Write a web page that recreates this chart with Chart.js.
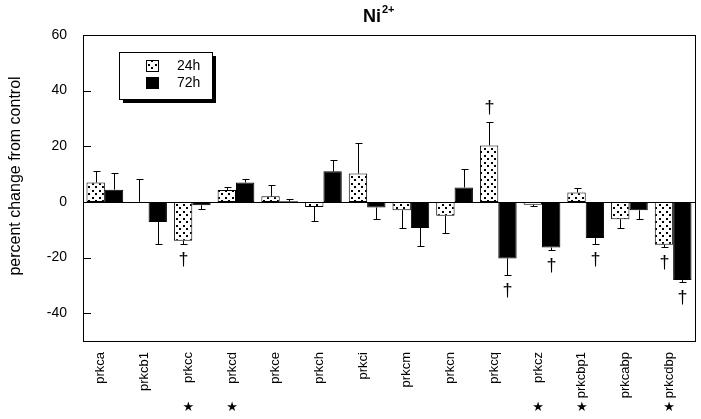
<!DOCTYPE html>
<html>
<head>
<meta charset="utf-8">
<script src="https://cdn.jsdelivr.net/npm/chart.js@4/dist/chart.umd.min.js"></script>
<style>
html, body { margin: 0; padding: 0; background: #fff; }
</style>
</head>
<body>
<canvas id="chart" width="701" height="419"></canvas>
<script>
// Data
const genes = ['prkca', 'prkcb1', 'prkcc', 'prkcd', 'prkce', 'prkch', 'prkci', 'prkcm', 'prkcn', 'prkcq', 'prkcz', 'prkcbp1', 'prkcabp', 'prkcdbp'];
const values24h = [7, 0, -14, 4.3, 2, -1.8, 10.2, -3, -5, 20.3, -1, 3.4, -6.2, -15.4];
const errors24h = [4, 8.4, 1, 1, 4.2, 5.2, 10.8, 6.4, 6, 8.5, 0.6, 1.6, 3, 0.7];
const values72h = [4.4, -7.2, -1.2, 7, 0.2, 11, -2, -9.4, 5.2, -20.3, -16.4, -13, -3, -28.1];
const errors72h = [6, 8, 1.4, 1.1, 0.7, 4, 4, 6.6, 6.8, 6, 0.8, 2.2, 3, 0.8];
const dagger24h = [0, 0, 1, 0, 0, 0, 0, 0, 0, 1, 0, 0, 0, 1];
const dagger72h = [0, 0, 0, 0, 0, 0, 0, 0, 0, 1, 1, 1, 0, 1];
const starred = [0, 0, 1, 1, 0, 0, 0, 0, 0, 0, 1, 1, 0, 1];
const yTicks = [-40, -20, 0, 20, 40, 60];

const FONT = "'Liberation Sans', Arial, Helvetica, sans-serif";

// dotted fill for the 24h bars
function dotPattern() {
    const c = document.createElement('canvas');
    c.width = 7;
    c.height = 7;
    const p = c.getContext('2d');
    p.fillStyle = '#fff';
    p.fillRect(0, 0, 7, 7);
    p.fillStyle = '#000';
    p.fillRect(1, 1, 2, 2);
    p.fillRect(4, 4, 2, 2);
    return p.createPattern(c, 'repeat');
}

const ctx = document.getElementById('chart').getContext('2d');
const dots = dotPattern();

// error bars, daggers, stars, frame, legend and titles
const extras = {
    id: 'extras',
    afterDatasetsDraw(chart) {
        const c = chart.ctx;
        const area = chart.chartArea;
        const y = chart.scales.y;
        const x = chart.scales.x;
        c.save();
        c.strokeStyle = '#000';
        c.lineWidth = 1;

        // zero line
        const y0 = Math.round(y.getPixelForValue(0)) + 0.5;
        c.beginPath();
        c.moveTo(area.left, y0);
        c.lineTo(area.right, y0);
        c.stroke();

        // inner tick marks on the y axis
        yTicks.forEach(v => {
            const py = Math.round(y.getPixelForValue(v)) + 0.5;
            c.beginPath();
            c.moveTo(area.left, py);
            c.lineTo(area.left + 8, py);
            c.stroke();
        });

        // frame
        c.strokeRect(Math.round(area.left) + 0.5, Math.round(area.top) + 0.5,
            Math.round(area.right - area.left), Math.round(area.bottom - area.top));

        const errs = [errors24h, errors72h];
        const dags = [dagger24h, dagger72h];
        c.fillStyle = '#000';
        c.font = '18px ' + FONT;
        c.textAlign = 'center';
        errs.forEach((err, di) => {
            const meta = chart.getDatasetMeta(di);
            const vals = chart.data.datasets[di].data;
            meta.data.forEach((bar, i) => {
                const up = vals[i] >= 0;
                const bx = Math.round(bar.x) + 0.5;
                const end = Math.round(y.getPixelForValue(vals[i] + (up ? err[i] : -err[i]))) + 0.5;
                c.beginPath();
                c.moveTo(bx, bar.y);
                c.lineTo(bx, end);
                c.moveTo(bx - 3, end);
                c.lineTo(bx + 4, end);
                c.stroke();
                if (dags[di][i]) {
                    if (up) {
                        c.textBaseline = 'bottom';
                        c.fillText('\u2020', bx, end - 5);
                    } else {
                        c.textBaseline = 'top';
                        c.fillText('\u2020', bx, end + 7);
                    }
                }
            });
        });

        // stars under the gene names
        c.font = '13px DejaVu Sans';
        c.textBaseline = 'middle';
        starred.forEach((s, i) => {
            if (s) c.fillText('\u2605', x.getPixelForValue(i) - 4, 408);
        });
        c.restore();
    },
    afterDraw(chart) {
        const c = chart.ctx;
        c.save();
        c.fillStyle = '#000';

        // title Ni2+
        c.font = 'bold 18px ' + FONT;
        c.textBaseline = 'alphabetic';
        c.textAlign = 'left';
        c.fillText('Ni', 363, 22);
        const w = c.measureText('Ni').width;
        c.font = 'bold 11px ' + FONT;
        c.fillText('2+', 363 + w + 1, 13);

        // y axis title
        c.font = '16px ' + FONT;
        c.translate(16, 176);
        c.rotate(-Math.PI / 2);
        c.textAlign = 'center';
        c.textBaseline = 'middle';
        c.fillText('percent change from control', 0, 0);
        c.setTransform(1, 0, 0, 1, 0, 0);

        // legend box with drop shadow
        c.fillRect(123, 56, 93, 47);
        c.fillStyle = '#fff';
        c.fillRect(120, 53, 93, 47);
        c.strokeStyle = '#000';
        c.lineWidth = 1;
        c.strokeRect(119.5, 52.5, 93, 47);
        chart.data.datasets.forEach((ds, i) => {
            const sy = 60 + i * 17;
            c.fillStyle = ds.backgroundColor;
            c.fillRect(146, sy, 13, 12);
            c.strokeRect(146.5, sy + 0.5, 12, 11);
            c.fillStyle = '#000';
            c.font = '14px ' + FONT;
            c.textAlign = 'left';
            c.textBaseline = 'middle';
            c.fillText(ds.label, 177, sy + 6);
        });
        c.restore();
    }
};

new Chart(ctx, {
    type: 'bar',
    data: {
        labels: genes,
        datasets: [{
            label: '24h',
            data: values24h,
            backgroundColor: dots,
            borderColor: '#000',
            borderWidth: 1,
            borderSkipped: false
        }, {
            label: '72h',
            data: values72h,
            backgroundColor: '#000',
            borderColor: '#000',
            borderWidth: 1,
            borderSkipped: false
        }]
    },
    options: {
        responsive: false,
        devicePixelRatio: 1,
        animation: false,
        categoryPercentage: 0.84,
        barPercentage: 1,
        layout: {
            padding: { left: 0, right: 6, top: 35, bottom: 0 }
        },
        plugins: {
            legend: { display: false },
            tooltip: { enabled: false }
        },
        scales: {
            x: {
                grid: { display: false, drawTicks: false },
                border: { display: false },
                ticks: {
                    minRotation: 90,
                    maxRotation: 90,
                    autoSkip: false,
                    padding: 11,
                    labelOffset: -4,
                    color: '#000',
                    font: { family: FONT, size: 13 }
                },
                afterFit(scale) { scale.height = 78; }
            },
            y: {
                min: -50,
                max: 60,
                grid: { display: false, drawTicks: false },
                border: { display: false },
                afterBuildTicks(scale) {
                    scale.ticks = yTicks.map(v => ({ value: v }));
                },
                ticks: {
                    padding: 16,
                    color: '#000',
                    font: { family: FONT, size: 14 }
                },
                afterFit(scale) { scale.width = 83; }
            }
        }
    },
    plugins: [extras]
});
</script>
</body>
</html>
